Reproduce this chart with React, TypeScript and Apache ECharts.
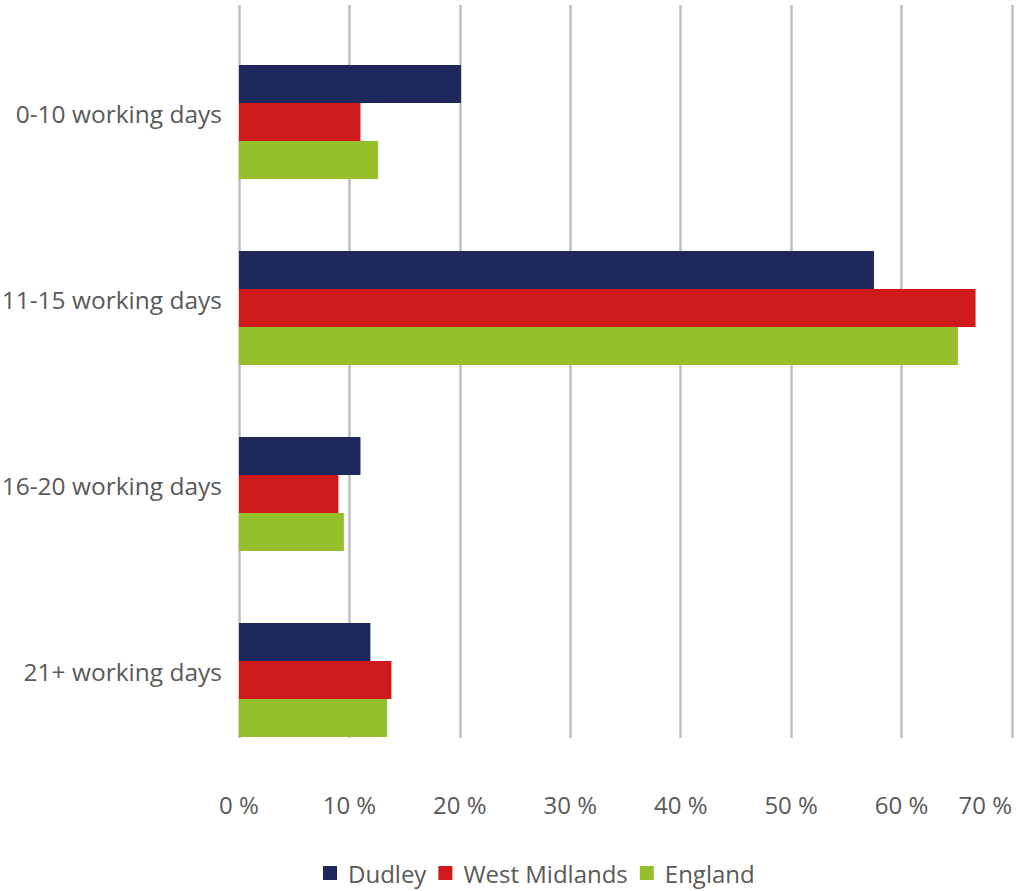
import React, { useEffect, useRef } from "react";
import * as echarts from "echarts";

const categories = ["0-10 working days", "11-15 working days", "16-20 working days", "21+ working days"];
const seriesNames = ["Dudley", "West Midlands", "England"];
const dudley = [20.1, 57.5, 11.0, 11.9];
const westMidlands = [11.0, 66.7, 9.0, 13.8];
const england = [12.6, 65.1, 9.5, 13.4];
const seriesColors = ["#1F285C", "#CE1A1B", "#96BF2C"];
const xTicks = [0, 10, 20, 30, 40, 50, 60, 70];

const FONT = "Open Sans";
const TEXT = "#595959";

export default function App() {
  const ref = useRef<HTMLDivElement>(null);
  useEffect(() => {
    if (!ref.current) return;
    const chart = echarts.init(ref.current, undefined, { renderer: "svg" });
    const values = [dudley, westMidlands, england];
    chart.setOption({
      animation: false,
      legend: {
        data: seriesNames,
        bottom: 1,
        left: 318,
        itemWidth: 14,
        itemHeight: 14,
        itemGap: 12,
        icon: "rect",
        textStyle: { fontFamily: FONT, fontSize: 24, color: TEXT, padding: [0, 0, 0, 6] },
      },
      grid: [
        { left: 239, right: 18, top: 29, height: 744, containLabel: false, outerBoundsMode: "none" },
        { left: 239, right: 18, top: 5, bottom: 153, containLabel: false, outerBoundsMode: "none" },
      ],
      xAxis: [
        {
          gridIndex: 0,
          type: "value",
          min: 0,
          max: 70,
          interval: 10,
          axisLine: { show: false },
          axisTick: { show: false },
          axisLabel: { show: false },
          splitLine: { show: false },
        },
        {
          gridIndex: 1,
          type: "value",
          min: xTicks[0],
          max: xTicks[xTicks.length - 1],
          interval: 10,
          axisLine: { show: false },
          axisTick: { show: false },
          axisLabel: {
            margin: 54,
            fontFamily: FONT,
            fontSize: 24,
            color: TEXT,
            alignMaxLabel: "right",
            formatter: (v: number) => v + " %",
          },
          splitLine: { show: true, lineStyle: { color: "#BFBFBF", width: 2.5 } },
        },
      ],
      yAxis: [
        {
          gridIndex: 0,
          type: "category",
          data: categories,
          inverse: true,
          axisLine: { show: false },
          axisTick: { show: false },
          axisLabel: {
            margin: 17,
            fontFamily: FONT,
            fontSize: 24.5,
            color: TEXT,
            verticalAlign: "bottom",
            lineHeight: 18,
          },
        },
        {
          gridIndex: 1,
          type: "value",
          show: false,
        },
      ],
      series: seriesNames.map((name, i) => ({
        name,
        type: "bar",
        xAxisIndex: 0,
        yAxisIndex: 0,
        data: values[i],
        barWidth: 38,
        barGap: "0%",
        itemStyle: { color: seriesColors[i] },
      })),
    });
    return () => chart.dispose();
  }, []);
  return (
    <div
      ref={ref}
      style={{ position: "fixed", left: 0, top: 0, width: 1030, height: 891, background: "#fff" }}
    />
  );
}
